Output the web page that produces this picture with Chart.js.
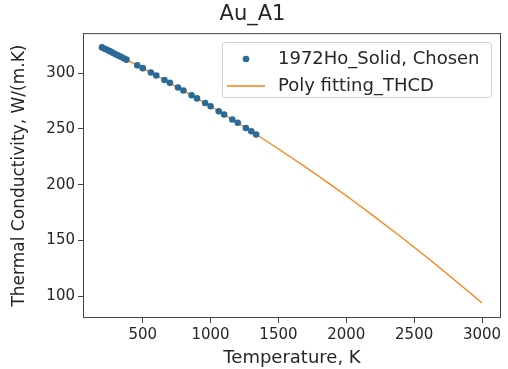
<!DOCTYPE html>
<html>
<head>
<meta charset="utf-8">
<script src="https://cdn.jsdelivr.net/npm/chart.js@4/dist/chart.umd.min.js"></script>
<style>
  html, body { margin: 0; padding: 0; background: #fff; }
  #wrap { width: 508px; height: 369px; }
</style>
</head>
<body>
<div id="wrap"><canvas id="thcdChart" width="508" height="369"></canvas></div>
<script>
// measured points (1972Ho, solid)
const measTemp = [200, 220, 240, 260, 280, 300, 320, 340, 360, 380,
  460, 500, 560, 600, 660, 700, 760, 800, 860, 900, 960, 1000,
  1060, 1100, 1160, 1200, 1260, 1300, 1336];
const measK = [323.0, 321.8, 320.6, 319.4, 318.2, 316.9, 315.7, 314.5, 313.2, 312.0,
  306.9, 304.4, 300.5, 297.8, 293.8, 291.2, 287.1, 284.3, 280.1, 277.3, 273.1, 270.2,
  265.8, 262.9, 258.4, 255.4, 250.8, 247.8, 245.0];

// polynomial fit curve
const fitTemp = [200, 300, 400, 500, 600, 700, 800, 900, 1000, 1100, 1200, 1300,
  1400, 1500, 1600, 1700, 1800, 1900, 2000, 2100, 2200, 2300, 2400, 2500,
  2600, 2700, 2800, 2900, 3000];
const fitK = [323.0, 316.9, 310.7, 304.4, 297.8, 291.2, 284.3, 277.3, 270.2, 262.9, 255.4, 247.8,
  240.0, 232.0, 223.9, 215.7, 207.3, 198.7, 190.0, 181.1, 172.0, 162.8, 153.5, 143.9,
  134.3, 124.4, 114.4, 104.3, 94.0];

const xTicks = [500, 1000, 1500, 2000, 2500, 3000];
const yTicks = [100, 150, 200, 250, 300];

const seriesNames = ["1972Ho_Solid, Chosen", "Poly fitting_THCD"];

const FONT = "'DejaVu Sans', sans-serif";
const blue = "#2b6a96";
const orange = "#ff7f0e";

// box around the axes + matplotlib-like legend
const framePlugin = {
  id: "frame",
  afterDraw(chart) {
    const ctx = chart.ctx;
    const a = chart.chartArea;
    ctx.save();
    ctx.strokeStyle = "#444";
    ctx.lineWidth = 1;
    ctx.strokeRect(a.left + 0.5, a.top + 0.5, a.right - a.left - 1, a.bottom - a.top - 1);

    // legend
    const lx = 222, ly = 42, lw = 269, lh = 55;
    ctx.beginPath();
    ctx.roundRect(lx + 0.5, ly + 0.5, lw, lh, 3);
    ctx.fillStyle = "rgba(255,255,255,0.8)";
    ctx.fill();
    ctx.strokeStyle = "#d0d0d0";
    ctx.stroke();

    ctx.fillStyle = blue;
    ctx.beginPath();
    ctx.arc(246, 59, 3.3, 0, Math.PI * 2);
    ctx.fill();

    ctx.strokeStyle = orange;
    ctx.lineWidth = 1.3;
    ctx.beginPath();
    ctx.moveTo(227, 86);
    ctx.lineTo(265, 86);
    ctx.stroke();

    ctx.fillStyle = "#262626";
    ctx.font = "18px " + FONT;
    ctx.textBaseline = "middle";
    ctx.fillText(seriesNames[0], 278, 59);
    ctx.fillText(seriesNames[1], 278, 86);
    ctx.restore();
  }
};

const ctx = document.getElementById("thcdChart").getContext("2d");
new Chart(ctx, {
  type: "scatter",
  data: {
    datasets: [
      {
        label: seriesNames[0],
        data: measTemp.map((t, i) => ({ x: t, y: measK[i] })),
        backgroundColor: blue,
        borderWidth: 0,
        pointRadius: 3.3,
        order: 0,
      },
      {
        label: seriesNames[1],
        data: fitTemp.map((t, i) => ({ x: t, y: fitK[i] })),
        showLine: true,
        borderColor: orange,
        borderWidth: 1.3,
        pointRadius: 0,
        tension: 0,
        order: 1,
      },
    ],
  },
  options: {
    responsive: false,
    animation: false,
    layout: { padding: { left: 4, right: 7, top: 0, bottom: 0 } },
    plugins: {
      legend: { display: false },
      tooltip: { enabled: false },
      title: {
        display: true,
        text: "Au_A1",
        color: "#262626",
        font: { family: FONT, size: 21, weight: "normal", lineHeight: 1.1 },
        padding: { top: 3, bottom: 7 },
      },
    },
    scales: {
      x: {
        type: "linear",
        min: 60,
        max: 3140,
        afterBuildTicks: (s) => { s.ticks = xTicks.map((v) => ({ value: v })); },
        afterFit: (s) => { s.height = 51; },
        grid: { drawOnChartArea: false, drawTicks: true, tickLength: 5, color: "#444" },
        border: { display: false },
        ticks: {
          color: "#262626", font: { family: FONT, size: 15 }, padding: 3, maxRotation: 0,
          callback: (v) => String(v),
        },
        title: {
          display: true,
          text: "Temperature, K",
          color: "#262626",
          font: { family: FONT, size: 18, lineHeight: 1.1 },
          padding: { top: 0, bottom: 1 },
        },
      },
      y: {
        type: "linear",
        min: 80.5,
        max: 335.8,
        afterBuildTicks: (s) => { s.ticks = yTicks.map((v) => ({ value: v })); },
        afterFit: (s) => { s.width = 79; },
        grid: { drawOnChartArea: false, drawTicks: true, tickLength: 5, color: "#444" },
        border: { display: false },
        ticks: {
          color: "#262626", font: { family: FONT, size: 15 }, padding: 3,
          callback: (v) => String(v),
        },
        title: {
          display: true,
          text: "Thermal Conductivity, W/(m.K)",
          color: "#262626",
          font: { family: FONT, size: 17, lineHeight: 1.1 },
          padding: { top: 6, bottom: 0 },
        },
      },
    },
  },
  plugins: [framePlugin],
});
</script>
</body>
</html>
